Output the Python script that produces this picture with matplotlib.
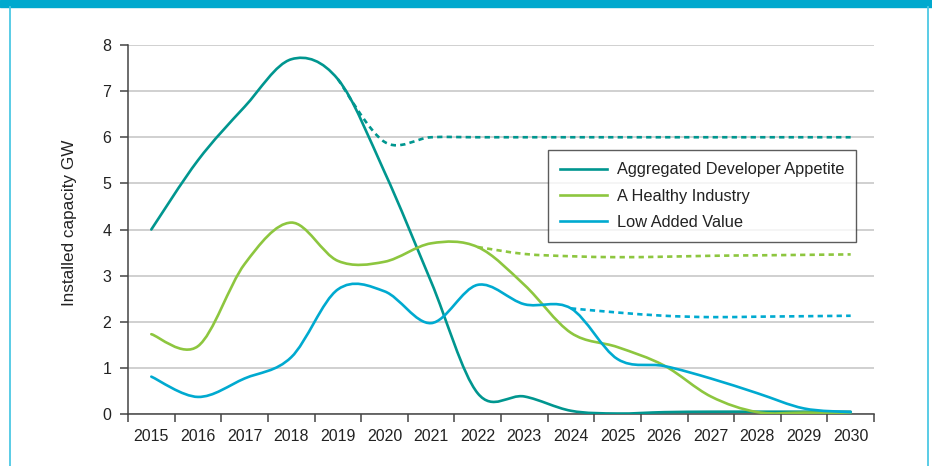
import matplotlib
matplotlib.use('Agg')
import matplotlib.pyplot as plt
import numpy as np
from matplotlib.path import Path
from matplotlib.patches import PathPatch, Rectangle
from matplotlib.lines import Line2D

plt.rcParams['font.family'] = ['Liberation Sans', 'DejaVu Sans']

# ---------------- data ----------------
years = [str(y) for y in range(2015, 2031)]

aggregated = [4.0, 5.50, 6.66, 7.69, 7.26, 5.25, 2.87, 0.45, 0.38, 0.07,
              0.01, 0.04, 0.05, 0.05, 0.05, 0.05]
aggregated_proj_start = 4   # 2019
aggregated_proj = [7.26, 5.90, 6.0, 6.0, 6.0, 6.0, 6.0, 6.0, 6.0, 6.0, 6.0, 6.0]

healthy = [1.73, 1.47, 3.25, 4.15, 3.32, 3.30, 3.70, 3.62, 2.80, 1.76,
           1.45, 1.05, 0.38, 0.04, 0.03, 0.03]
healthy_proj_start = 7      # 2022
healthy_proj = [3.62, 3.47, 3.42, 3.40, 3.41, 3.43, 3.44, 3.45, 3.46]

low = [0.81, 0.37, 0.77, 1.23, 2.70, 2.66, 1.97, 2.80, 2.38, 2.29,
       1.19, 1.04, 0.77, 0.45, 0.12, 0.04]
low_proj_start = 9          # 2024
low_proj = [2.29, 2.20, 2.13, 2.10, 2.11, 2.12, 2.13]

series_names = ['Aggregated Developer Appetite', 'A Healthy Industry', 'Low Added Value']
colors = ['#00968f', '#8dc63f', '#00aad0']

y_label = 'Installed capacity GW'


def smooth_path(xs, ys):
    pts = np.column_stack([xs, ys]).astype(float)
    n = len(pts)
    verts = [pts[0]]
    codes = [Path.MOVETO]
    for i in range(n - 1):
        p0 = pts[i - 1] if i > 0 else pts[i]
        p1 = pts[i]
        p2 = pts[i + 1]
        p3 = pts[i + 2] if i + 2 < n else pts[i + 1]
        c1 = p1 + (p2 - p0) / 6.0
        c2 = p2 - (p3 - p1) / 6.0
        verts += [c1, c2, p2]
        codes += [Path.CURVE4] * 3
    return Path(verts, codes)


fig = plt.figure(figsize=(9.32, 4.66), dpi=100)
fig.patch.set_facecolor('white')

# frame decorations
fig.patches.append(Rectangle((0, 1 - 7 / 466), 1, 7 / 466, transform=fig.transFigure,
                             color='#00a9ce', zorder=0))
fig.lines.append(Line2D([10 / 932, 10 / 932], [0, 1 - 7 / 466], transform=fig.transFigure,
                        color='#4cc8e4', linewidth=1.3))
fig.lines.append(Line2D([928 / 932, 928 / 932], [0, 1 - 7 / 466], transform=fig.transFigure,
                        color='#4cc8e4', linewidth=1.3))

ax = fig.add_axes([128 / 932, 1 - 414 / 466, 746 / 932, 369 / 466])
ax.set_xlim(-0.5, 15.5)
ax.set_ylim(0, 8)

x = np.arange(len(years))
lw = 1.9
dash = (0, (2.0, 1.6))

projections = [(aggregated_proj_start, aggregated_proj),
               (healthy_proj_start, healthy_proj),
               (low_proj_start, low_proj)]
mains = [aggregated, healthy, low]

z = 3
for (start, vals), c in zip(projections, colors):
    px = np.arange(start, start + len(vals))
    ax.add_patch(PathPatch(smooth_path(px, vals), fill=False, edgecolor=c,
                           linewidth=lw, linestyle=dash, zorder=z, capstyle='butt'))
    z += 1
for main, c in zip(mains, colors):
    ax.add_patch(PathPatch(smooth_path(x, main), fill=False, edgecolor=c,
                           linewidth=lw, zorder=z, capstyle='round', joinstyle='round'))
    z += 1

# axes styling
ax.set_xticks(np.arange(-0.5, 16, 1))
ax.set_xticklabels([])
ax.set_xticks(x, minor=True)
ax.set_xticklabels(years, minor=True)
ax.tick_params(axis='x', which='major', length=6, width=1.1, color='#444', direction='out')
ax.tick_params(axis='x', which='minor', length=0, pad=11, labelsize=11.5, labelcolor='#222')
ax.set_yticks(range(9))
ax.tick_params(axis='y', length=6, width=1.1, color='#444', pad=6, labelsize=11.5,
               labelcolor='#222')
ax.grid(axis='y', color='#c8c8c8', linewidth=1.2)
ax.set_axisbelow(True)
for s in ['top', 'right']:
    ax.spines[s].set_visible(False)
for s in ['left', 'bottom']:
    ax.spines[s].set_color('#444')
    ax.spines[s].set_linewidth(1.1)

ax.set_ylabel(y_label, fontsize=12.3, color='#222')
ax.yaxis.set_label_coords(-0.069, 0.519)

handles = [Line2D([], [], color=c, linewidth=lw) for c in colors]
leg = ax.legend(handles, series_names, loc='upper left',
                bbox_to_anchor=(548 / 932, 1 - 150 / 466), bbox_transform=fig.transFigure,
                borderaxespad=0, fontsize=11.75, frameon=True, fancybox=False,
                handlelength=2.85, handletextpad=0.6, borderpad=0.75, labelspacing=0.7)
leg.get_frame().set_edgecolor('#333')
leg.get_frame().set_linewidth(1.0)
for t in leg.get_texts():
    t.set_color('#222')

fig.savefig('out.png', dpi=100, facecolor='white')
